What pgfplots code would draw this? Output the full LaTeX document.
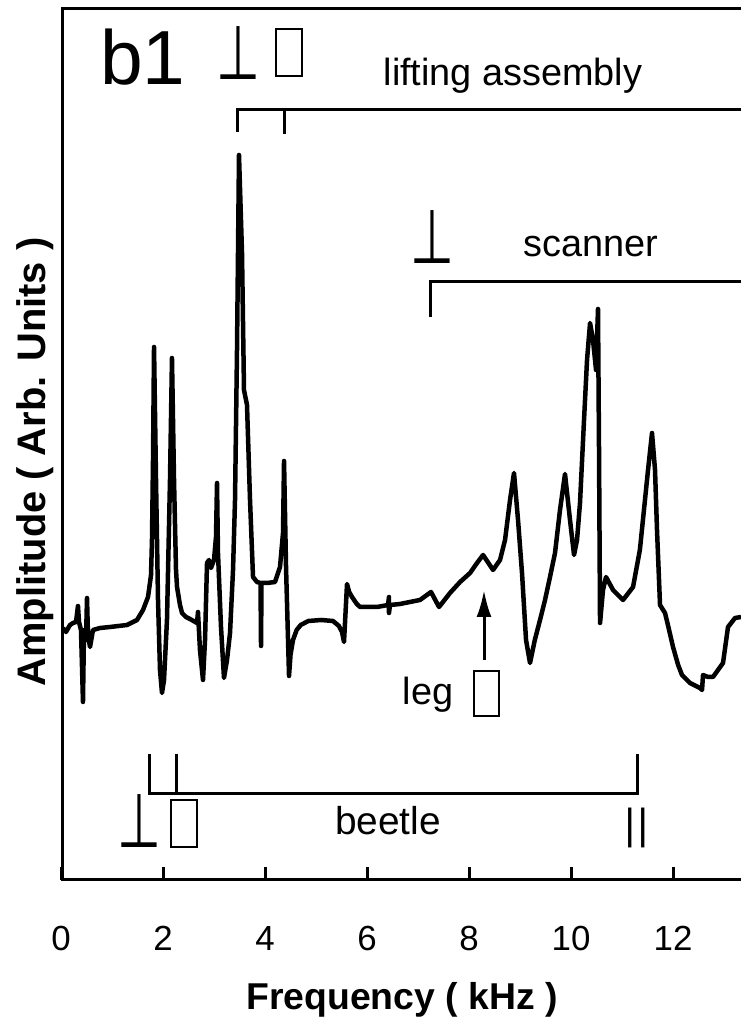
\documentclass[border=0pt]{standalone}
\usepackage{pgfplots}
\pgfplotsset{compat=1.18}
\usepackage{fontspec}
\setmainfont{Liberation Sans}
\newfontfamily\dejavu{DejaVu Sans}
\usetikzlibrary{arrows.meta}

\begin{document}
\begin{tikzpicture}[x=1bp,y=1bp]
\begin{axis}[
  at={(61bp,141bp)}, anchor=south west,
  scale only axis, width=680bp, height=871bp,
  xmin=0, xmax=13.333, ymin=0, ymax=871,
  axis line style={draw=none},
  xtick={0,2,...,12}, ytick=\empty,
  xtick pos=left, tick align=inside,
  major tick length=13bp,
  every tick/.style={black, line width=3bp},
  /pgf/number format/assume math mode=true,
  xticklabel style={font=\fontsize{35}{35}\selectfont, anchor=north, inner sep=0pt},
  xticklabel shift={46bp},
  xlabel={Frequency ( kHz )},
  xlabel style={font=\fontsize{37.5}{37.5}\selectfont\bfseries, at={(axis description cs:0.5015,-0.149)}, anchor=base, inner sep=0pt},
  ylabel={Amplitude ( Arb. Units )},
  ylabel style={font=\fontsize{40}{40}\selectfont\bfseries, at={(axis description cs:-0.0235,0.48)}, anchor=base, inner sep=0pt},
]
\addplot[black, line width=4.5bp, line join=round] coordinates {
(0.039,252) (0.098,248) (0.176,255) (0.235,257) (0.294,258) (0.333,274) (0.353,258)
(0.392,250) (0.431,178) (0.451,250) (0.490,240) (0.510,282) (0.529,245) (0.569,233)
(0.627,250) (0.765,252) (0.961,253) (1.294,255) (1.490,260) (1.608,270) (1.706,283)
(1.765,305) (1.784,340) (1.804,420) (1.824,533) (1.863,400) (1.902,280) (1.941,210) (1.980,187)
(2.020,200) (2.078,260) (2.137,400) (2.176,522) (2.216,400) (2.255,310) (2.275,293) (2.333,275) (2.373,267)
(2.450,263) (2.529,261) (2.667,257) (2.686,268) (2.725,230) (2.784,200) (2.824,240) (2.863,317)
(2.902,320) (2.941,312) (3.000,320) (3.039,343) (3.059,397) (3.078,327) (3.137,253)
(3.196,202) (3.255,220) (3.314,247) (3.373,310) (3.412,380) (3.451,530) (3.490,725)
(3.549,627) (3.588,490) (3.647,475) (3.706,380) (3.765,303) (3.843,298) (3.912,297)
(3.922,234) (3.931,297) (4.039,297) (4.196,298) (4.294,313) (4.353,347) (4.373,419)
(4.412,313) (4.471,204) (4.500,225) (4.549,240) (4.620,250) (4.700,255) (4.850,259) (5.100,260)
(5.333,259) (5.450,254) (5.510,248)
(5.549,238) (5.608,296) (5.650,288) (5.706,283) (5.800,276) (5.863,273) (6.196,273) (6.412,275) (6.431,283)
(6.431,267) (6.451,275) (6.647,276) (7.039,280) (7.255,288) (7.412,273) (7.627,287)
(7.824,298) (8.020,307) (8.157,317) (8.275,325) (8.471,310) (8.608,320) (8.706,340)
(8.804,380) (8.882,407) (8.961,360) (9.039,307) (9.118,240) (9.196,217) (9.290,240) (9.392,260)
(9.490,280) (9.588,303) (9.686,327) (9.784,370) (9.882,406) (9.980,360) (10.059,325) (10.118,340)
(10.176,377) (10.255,460) (10.314,520) (10.373,557) (10.431,540) (10.490,510) (10.529,571)
(10.549,430) (10.569,257) (10.627,290) (10.686,303) (10.824,290) (11.020,280) (11.216,293)
(11.350,330) (11.450,380) (11.510,410) (11.588,447) (11.647,410) (11.686,350) (11.745,275) (11.843,267)
(11.900,255) (12.000,233) (12.100,215) (12.176,205) (12.333,197) (12.529,192) (12.569,190) (12.588,205) (12.686,203)
(12.784,203) (12.980,217) (13.078,253) (13.216,262) (13.333,263)
};
\end{axis}
% frame (left, top, bottom)
\draw[line width=3bp] (741,1012) -- (62,1012) -- (62,141) -- (741,141);
% brackets
\draw[line width=3bp] (237,889) -- (237,911) -- (741,911);
\draw[line width=3bp] (284,911) -- (284,887);
\draw[line width=3bp] (430,704) -- (430,739) -- (741,739);
\draw[line width=3bp] (149,267) -- (149,227) -- (637,227) -- (637,267);
\draw[line width=3bp] (176,227) -- (176,267);
% arrow
\draw[line width=3bp, -{Latex[length=27bp,width=15bp]}] (484,361) -- (484,431);
% texts
\node[font=\fontsize{77}{77}\selectfont, anchor=base west, inner sep=0pt] at (100,936) {b1};
\node[font=\fontsize{38}{38}\selectfont, anchor=base, inner sep=0pt] at (513,935) {lifting assembly};
\node[font=\fontsize{38}{38}\selectfont, anchor=base, inner sep=0pt] at (591,764) {scanner};
\node[font=\fontsize{39}{39}\selectfont, anchor=base, inner sep=0pt] at (388,186) {beetle};
\node[font=\fontsize{38}{38}\selectfont, anchor=base, inner sep=0pt] at (428,316) {leg};
\node[font=\dejavu\fontsize{46}{46}\selectfont, anchor=base, inner sep=0pt] at (238,941) {\scalebox{1.1}[1.65]{⊥}};
\node[font=\dejavu\fontsize{46}{46}\selectfont, anchor=base, inner sep=0pt] at (432,757) {\scalebox{1.1}[1.65]{⊥}};
\node[font=\dejavu\fontsize{46}{46}\selectfont, anchor=base, inner sep=0pt] at (139.5,173) {\scalebox{1.1}[1.65]{⊥}};
% missing-glyph boxes (as in the original figure)
\draw[line width=2.5bp, black] (276,945) rectangle (302,992);
\draw[line width=2.5bp, black] (474,305) rectangle (499,350);
\draw[line width=2.5bp, black] (171,174) rectangle (197,221);
\node[font=\dejavu\fontsize{40}{40}\selectfont, anchor=center, inner sep=0pt] at (636.5,193) {||};
\pgfresetboundingbox
\path[use as bounding box] (0,0) rectangle (741,1021);
\end{tikzpicture}
\end{document}
